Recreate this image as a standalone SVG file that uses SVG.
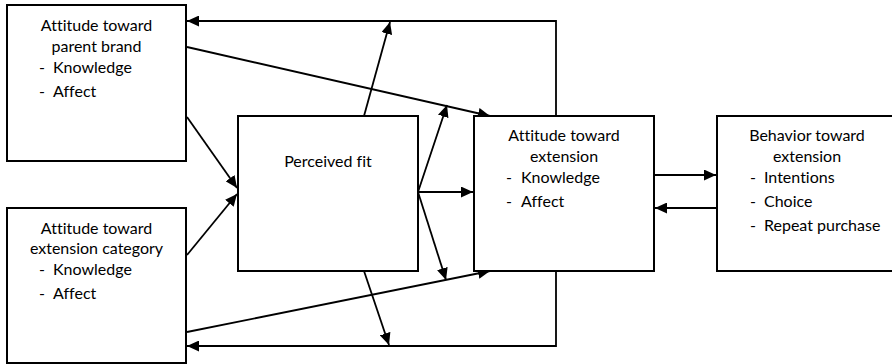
<svg xmlns="http://www.w3.org/2000/svg" width="892" height="364" viewBox="0 0 892 364">
<style>
.box{fill:#fff;stroke:#000;stroke-width:2}
.t{font-family:Lato,"Liberation Sans",sans-serif;font-size:16px;fill:#000;font-variant-ligatures:none}
.c{text-anchor:middle}
.ln{fill:none;stroke:#000;stroke-width:1.8}
.ar{marker-end:url(#ah)}
</style>
<defs>
<marker id="ah" markerUnits="userSpaceOnUse" markerWidth="12" markerHeight="11" refX="12" refY="5.5" orient="auto" viewBox="0 0 12 11">
<path d="M0,0 L12,5.5 L0,11 z" fill="#000"/>
</marker>
</defs>
<rect width="892" height="364" fill="#fff"/>
<g id="connectors">
<polyline class="ln ar" points="556,116 556,21 187,21"/>
<polyline class="ln ar" points="556,271 556,346 187,346"/>
<line class="ln ar" x1="364" y1="116" x2="390" y2="22"/>
<line class="ln ar" x1="364" y1="271" x2="389" y2="345"/>
<line class="ln ar" x1="187" y1="47" x2="490" y2="116"/>
<line class="ln ar" x1="187" y1="332" x2="490" y2="271"/>
<line class="ln ar" x1="187" y1="117" x2="237" y2="188"/>
<line class="ln ar" x1="187" y1="255" x2="237" y2="194"/>
<line class="ln ar" x1="418" y1="192" x2="447" y2="105"/>
<line class="ln ar" x1="418" y1="192" x2="473" y2="192"/>
<line class="ln ar" x1="418" y1="192" x2="446" y2="280"/>
<line class="ln ar" x1="654" y1="175" x2="716" y2="175"/>
<line class="ln ar" x1="717" y1="208" x2="655" y2="208"/>
</g>
<g id="parent-brand">
<rect class="box" x="7" y="5" width="179" height="156"/>
<text class="t c" x="96.5" y="31">Attitude toward</text>
<text class="t c" x="96.5" y="52">parent brand</text>
<text class="t" x="39" y="73">-</text><text class="t" x="53" y="73">Knowledge</text>
<text class="t" x="39" y="97">-</text><text class="t" x="53" y="97">Affect</text>
</g>
<g id="extension-category">
<rect class="box" x="7" y="208" width="179" height="155"/>
<text class="t c" x="96.5" y="234">Attitude toward</text>
<text class="t c" x="96.5" y="254">extension category</text>
<text class="t" x="39" y="275">-</text><text class="t" x="53" y="275">Knowledge</text>
<text class="t" x="39" y="299">-</text><text class="t" x="53" y="299">Affect</text>
</g>
<g id="perceived-fit">
<rect class="box" x="238" y="116" width="180" height="155"/>
<text class="t c" x="328" y="167">Perceived fit</text>
</g>
<g id="attitude-extension">
<rect class="box" x="474" y="116" width="180" height="155"/>
<text class="t c" x="564" y="141">Attitude toward</text>
<text class="t c" x="564" y="162">extension</text>
<text class="t" x="506" y="183">-</text><text class="t" x="521" y="183">Knowledge</text>
<text class="t" x="506" y="207">-</text><text class="t" x="521" y="207">Affect</text>
</g>
<g id="behavior-extension">
<rect class="box" x="717" y="116" width="180" height="155"/>
<text class="t c" x="807" y="141">Behavior toward</text>
<text class="t c" x="807" y="162">extension</text>
<text class="t" x="750" y="183">-</text><text class="t" x="764" y="183">Intentions</text>
<text class="t" x="750" y="207">-</text><text class="t" x="764" y="207">Choice</text>
<text class="t" x="750" y="231">-</text><text class="t" x="764" y="231">Repeat purchase</text>
</g>
</svg>
